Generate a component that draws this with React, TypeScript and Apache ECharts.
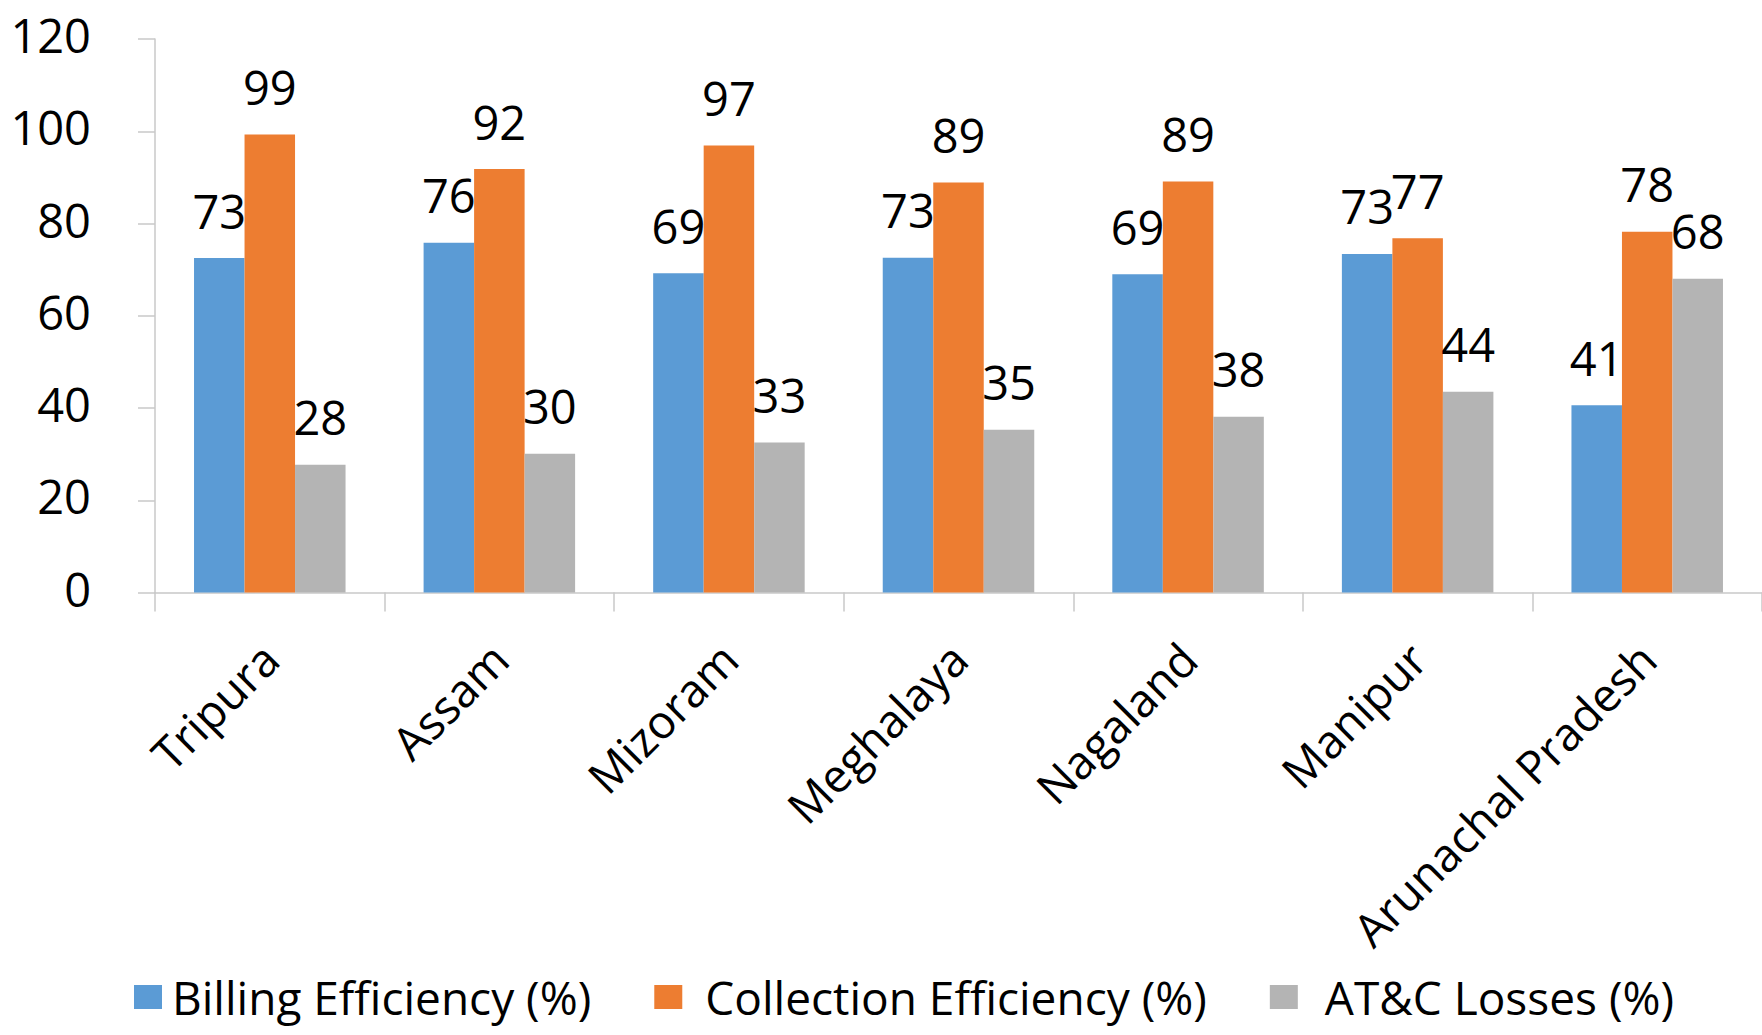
import React, { useEffect, useRef } from "react";
import * as echarts from "echarts";

const categories = ["Tripura", "Assam", "Mizoram", "Meghalaya", "Nagaland", "Manipur", "Arunachal Pradesh"];
const billingEfficiency = [72.5, 75.8, 69.2, 72.6, 69.0, 73.4, 40.6];
const collectionEfficiency = [99.3, 91.8, 96.9, 88.9, 89.1, 76.8, 78.2];
const atcLosses = [27.7, 30.1, 32.5, 35.3, 38.1, 43.5, 68.0];
const seriesNames = ["Billing Efficiency (%)", "Collection Efficiency (%)", "AT&C Losses (%)"];
const colors = ["#5B9BD5", "#ED7D31", "#B4B4B4"];

export default function App() {
  const ref = useRef<HTMLDivElement>(null);
  useEffect(() => {
    if (!ref.current) return;
    const chart = echarts.init(ref.current, null, { renderer: "svg" });
    const font = "'Open Sans', sans-serif";
    const mk = (name: string, data: number[], color: string) => ({
      name,
      type: "bar",
      data,
      barGap: "0%",
      barCategoryGap: "34%",
      itemStyle: { color },
      label: {
        show: true,
        position: "top",
        distance: 24,
        fontSize: 47,
        lineHeight: 47,
        fontFamily: font,
        color: "#000",
        formatter: (p: any) => String(Math.round(p.value)),
      },
    });
    const legendText = (padLeft: number) => ({
      fontSize: 46,
      lineHeight: 46,
      fontFamily: font,
      color: "#000",
      padding: [0, 0, 0, padLeft],
    });
    chart.setOption({
      animation: false,
      backgroundColor: "#fff",
      color: colors,
      grid: { left: 155, top: 39, width: 1617, height: 553.5, containLabel: false },
      legend: {
        data: [
          { name: seriesNames[0], textStyle: legendText(5) },
          { name: seriesNames[1], textStyle: legendText(18) },
          { name: seriesNames[2], textStyle: legendText(22) },
        ],
        left: 129,
        top: 969,
        icon: "rect",
        itemWidth: 28,
        itemHeight: 24,
        itemGap: 63,
        textStyle: legendText(20),
      },
      xAxis: {
        type: "category",
        data: categories,
        axisLine: { lineStyle: { color: "#C8C8C8", width: 1.5 } },
        axisTick: { show: true, length: 19, lineStyle: { color: "#C8C8C8", width: 1.5 } },
        axisLabel: {
          interval: 0,
          rotate: 45,
          margin: 58,
          fontSize: 46,
          fontFamily: font,
          color: "#000",
        },
      },
      yAxis: {
        type: "value",
        min: 0,
        max: 120,
        interval: 20,
        axisLine: { show: true, lineStyle: { color: "#C8C8C8", width: 1.5 } },
        axisTick: { show: true, length: 17, lineStyle: { color: "#C8C8C8", width: 1.5 } },
        splitLine: { show: false },
        axisLabel: {
          margin: 64,
          fontSize: 47,
          fontFamily: font,
          color: "#000",
          verticalAlign: "bottom",
          lineHeight: 8,
        },
      },
      series: [
        mk(seriesNames[0], billingEfficiency, colors[0]),
        mk(seriesNames[1], collectionEfficiency, colors[1]),
        mk(seriesNames[2], atcLosses, colors[2]),
      ],
    });
    return () => chart.dispose();
  }, []);
  return (
    <div style={{ position: "fixed", left: 0, top: 0, width: 1762, height: 1035, background: "#fff", overflow: "hidden" }}>
      <div ref={ref} style={{ width: 1762, height: 1035 }} />
    </div>
  );
}
